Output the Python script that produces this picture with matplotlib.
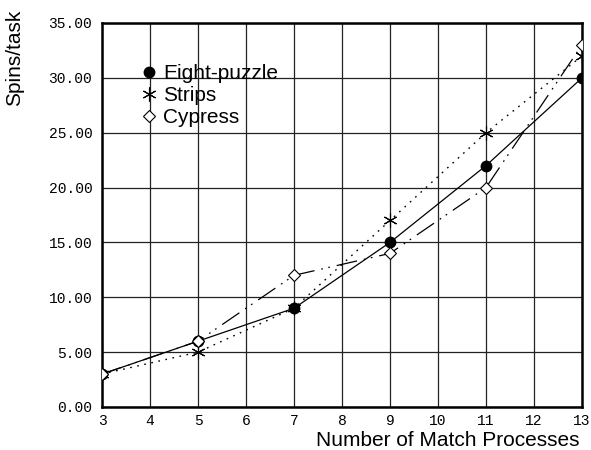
import matplotlib
matplotlib.use("Agg")
import matplotlib.pyplot as plt
from matplotlib.lines import Line2D
from matplotlib.ticker import FormatStrFormatter

plt.rcParams['lines.scale_dashes'] = False

processes = [3, 5, 7, 9, 11, 13]
eight_puzzle = [3, 6, 9, 15, 22, 30]
strips = [3, 5, 9, 17, 25, 32]
cypress = [3, 6, 12, 14, 20, 33]
series_names = ["Eight-puzzle", "Strips", "Cypress"]
x_ticks = list(range(3, 14))
y_ticks = [0, 5, 10, 15, 20, 25, 30, 35]

fig = plt.figure(figsize=(5.91, 4.5), dpi=100)
ax = fig.add_axes([102/591, 1-407/450, 480/591, 384/450])

sans = 'Liberation Sans'
mono = 'Liberation Mono'

star = (6, 2, 0)

ax.plot(processes, eight_puzzle, color='black', lw=0.9, marker='o', ms=7.5,
        mfc='black', mec='black', zorder=5)
ax.plot(processes, strips, color='black', lw=1.0, ls=(0, (1.2, 4.0)),
        marker=star, ms=10, mec='black', mew=0.8, zorder=5)
ax.plot(processes, cypress, color='black', lw=0.9,
        ls=(0, (15, 5, 1.2, 4, 1.2, 5)),
        marker='D', ms=6.5, mfc='white', mec='black', mew=0.8, zorder=5)

ax.set_xlim(3, 13)
ax.set_ylim(0, 35)
ax.set_xticks(x_ticks)
ax.set_yticks(y_ticks)
ax.yaxis.set_major_formatter(FormatStrFormatter('%.2f'))
ax.grid(True, color='#222222', lw=0.9)
ax.set_axisbelow(True)
ax.tick_params(length=0, labelsize=10.5, pad=5)
for lab in ax.get_xticklabels() + ax.get_yticklabels():
    lab.set_family(mono)
ax.tick_params(axis='y', pad=7)
for s in ax.spines.values():
    s.set_linewidth(1.8)

handles = [
    Line2D([], [], ls='none', marker='o', ms=7.5, mfc='black', mec='black'),
    Line2D([], [], ls='none', marker=star, ms=10, mec='black', mew=0.8),
    Line2D([], [], ls='none', marker='D', ms=6.5, mfc='white', mec='black', mew=0.8),
]
leg = ax.legend(handles, series_names, loc='upper left',
                bbox_to_anchor=(41/480, (407-64)/384), frameon=False,
                handlelength=0.6, handletextpad=0.35, labelspacing=0.15,
                borderpad=0, borderaxespad=0,
                prop={'family': sans, 'size': 15})

fig.text(15/591, 1-10/450, "Spins/task", rotation=90, ha='center', va='top',
         family=sans, fontsize=15)
fig.text(580/591, 1-441/450, "Number of Match Processes", ha='right',
         va='center', family=sans, fontsize=15)

fig.savefig("out.png", dpi=100)
